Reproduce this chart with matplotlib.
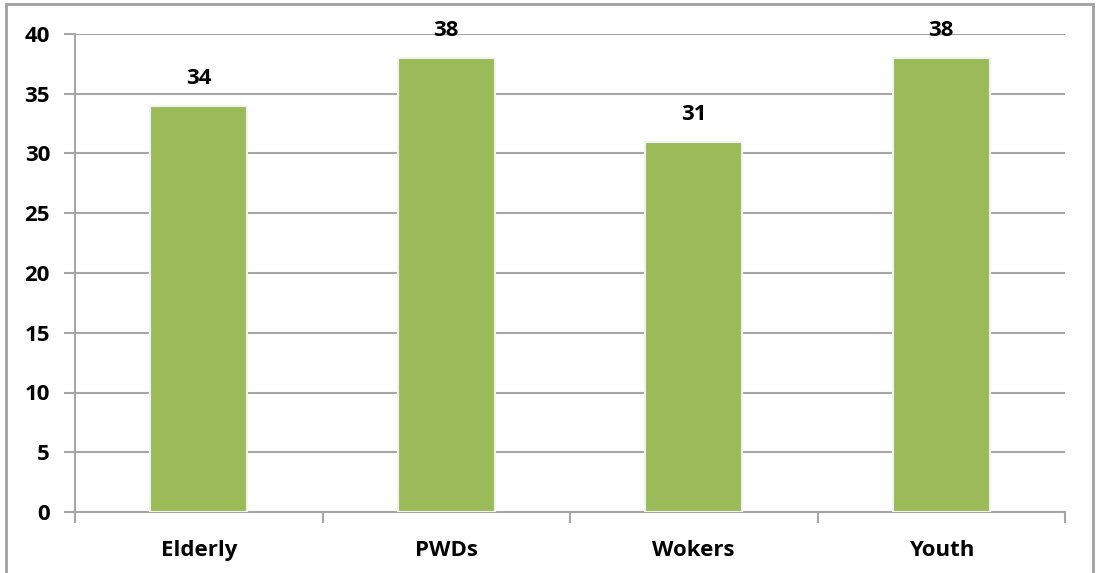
import matplotlib
matplotlib.use("Agg")
import matplotlib.pyplot as plt
from matplotlib.patches import Rectangle

categories = ["Elderly", "PWDs", "Wokers", "Youth"]
values = [34, 38, 31, 38]
yticks = [0, 5, 10, 15, 20, 25, 30, 35, 40]

W, H = 1096, 573
fig = plt.figure(figsize=(W / 100, H / 100), dpi=100)
plt.rcParams['font.family'] = ['Open Sans', 'DejaVu Sans']
plt.rcParams['font.weight'] = 'bold'

# axes box in pixels: left 75, right 1065, top 34, bottom 512
ax = fig.add_axes([75 / W, 1 - 512 / H, (1065 - 75) / W, (512 - 34) / H])

grid_col = "#a6a6a6"
x = list(range(len(categories)))
ax.bar(x, values, width=0.39, color="#9bbb59", edgecolor="#f2f2f2",
       linewidth=1.5, zorder=3)

for xi, v in zip(x, values):
    ax.text(xi, v + 1.4, str(v), ha="center", va="bottom", fontsize=16,
            fontweight="bold", clip_on=False)

ax.set_xlim(-0.5, len(categories) - 0.5)
ax.set_ylim(0, 40)
ax.set_yticks(yticks)
ax.yaxis.grid(True, color=grid_col, linewidth=1.5, zorder=0)
ax.set_axisbelow(True)

ax.set_xticks(x)
ax.set_xticklabels(categories, fontsize=16, fontweight="bold")
ax.tick_params(axis="x", length=0, pad=20)
ax.set_xticks([i - 0.5 for i in range(len(categories) + 1)], minor=True)
ax.tick_params(axis="x", which="minor", length=8, width=1.5, color=grid_col)
ax.tick_params(axis="y", length=8, width=1.5, color=grid_col, labelsize=16, pad=10)
for lab in ax.get_yticklabels():
    lab.set_fontweight("bold")

for s in ["top", "right"]:
    ax.spines[s].set_visible(False)
for s in ["left", "bottom"]:
    ax.spines[s].set_color(grid_col)
    ax.spines[s].set_linewidth(1.5)

# outer chart border
fig.patches.append(Rectangle((6 / W, -0.02), (1093 - 6) / W, 1 - 4 / H + 0.02,
                             transform=fig.transFigure, fill=False,
                             edgecolor="#a0a0a0", linewidth=2))

fig.savefig("out.png", dpi=100)
